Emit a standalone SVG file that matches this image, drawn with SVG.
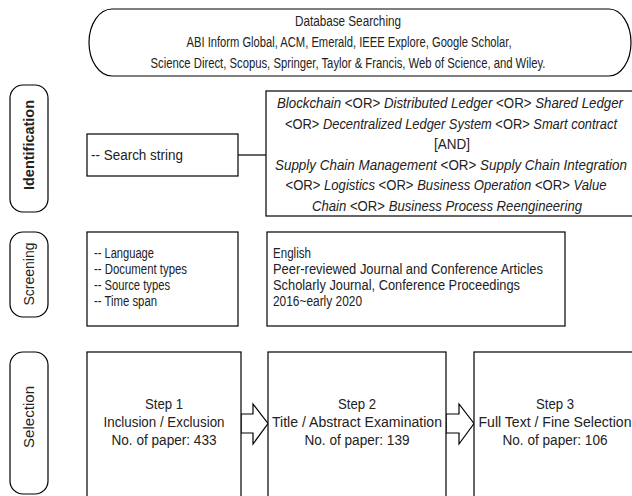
<svg xmlns="http://www.w3.org/2000/svg" width="632" height="496" viewBox="0 0 632 496">
<style>
.b{fill:#fff;stroke:#000;stroke-width:1.2}
.t{font-family:"Liberation Sans",Arial,sans-serif;font-size:14px;fill:#222}
.c{text-anchor:middle}
.i{font-style:italic}
</style>
<rect width="632" height="496" fill="#fff"/>
<g id="database">
<path class="b" d="M112,9 H609 A22,33.5 0 0 1 609,76 H112 A23,33.5 0 0 1 112,9 Z"/>
<text class="t c" x="348" y="26" textLength="106" lengthAdjust="spacingAndGlyphs">Database Searching</text>
<text class="t c" x="349" y="47" textLength="325" lengthAdjust="spacingAndGlyphs">ABI Inform Global, ACM, Emerald, IEEE Explore, Google Scholar,</text>
<text class="t c" x="348" y="68" textLength="395" lengthAdjust="spacingAndGlyphs">Science Direct, Scopus, Springer, Taylor &amp; Francis, Web of Science, and Wiley.</text>
</g>
<g id="identification">
<rect class="b" x="10" y="85" width="38" height="127" rx="13"/>
<text class="t c" transform="translate(34,145) rotate(-90)" font-weight="bold" textLength="90" lengthAdjust="spacingAndGlyphs">Identification</text>
</g>
<g id="screening">
<rect class="b" x="10" y="232" width="38" height="85" rx="13"/>
<text class="t c" transform="translate(34,274) rotate(-90)" textLength="63" lengthAdjust="spacingAndGlyphs">Screening</text>
</g>
<g id="selection">
<rect class="b" x="10" y="352" width="38" height="142" rx="13"/>
<text class="t c" transform="translate(34,417) rotate(-90)" textLength="62" lengthAdjust="spacingAndGlyphs">Selection</text>
</g>
<g id="connectors">
<line x1="238" y1="155" x2="266" y2="155" stroke="#000" stroke-width="1.2"/>
<polygon class="b" points="241,414 253,414 253,404 268,423.5 253,444 253,433 241,433"/>
<polygon class="b" points="446,414 459,414 459,404 474,423.5 459,444 459,433 446,433"/>
</g>
<g id="search-string">
<rect class="b" x="87" y="134" width="151" height="42"/>
<text class="t" x="91" y="160" textLength="92" lengthAdjust="spacingAndGlyphs">-- Search string</text>
</g>
<g id="search-terms">
<rect class="b" x="266" y="91" width="380" height="125"/>
<text class="t c" x="450" y="108" textLength="346" lengthAdjust="spacingAndGlyphs"><tspan class="i">Blockchain</tspan> &lt;OR&gt; <tspan class="i">Distributed Ledger</tspan> &lt;OR&gt; <tspan class="i">Shared Ledger</tspan></text>
<text class="t c" x="451" y="129" textLength="332" lengthAdjust="spacingAndGlyphs">&lt;OR&gt; <tspan class="i">Decentralized Ledger System</tspan> &lt;OR&gt; <tspan class="i">Smart contract</tspan></text>
<text class="t c" x="452" y="149" textLength="36" lengthAdjust="spacingAndGlyphs">[AND]</text>
<text class="t c" x="451" y="170" textLength="352" lengthAdjust="spacingAndGlyphs"><tspan class="i">Supply Chain Management</tspan> &lt;OR&gt; <tspan class="i">Supply Chain Integration</tspan></text>
<text class="t c" x="446" y="190" textLength="321" lengthAdjust="spacingAndGlyphs">&lt;OR&gt; <tspan class="i">Logistics</tspan> &lt;OR&gt; <tspan class="i">Business Operation</tspan> &lt;OR&gt; <tspan class="i">Value</tspan></text>
<text class="t c" x="447" y="211" textLength="270" lengthAdjust="spacingAndGlyphs"><tspan class="i">Chain</tspan>  &lt;OR&gt; <tspan class="i">Business Process Reengineering</tspan></text>
</g>
<g id="criteria">
<rect class="b" x="87" y="232" width="151" height="94"/>
<text class="t" x="94" y="258" textLength="60" lengthAdjust="spacingAndGlyphs">-- Language</text>
<text class="t" x="94" y="274" textLength="93" lengthAdjust="spacingAndGlyphs">-- Document types</text>
<text class="t" x="94" y="290" textLength="76" lengthAdjust="spacingAndGlyphs">-- Source types</text>
<text class="t" x="94" y="306" textLength="63" lengthAdjust="spacingAndGlyphs">-- Time span</text>
</g>
<g id="criteria-values">
<rect class="b" x="267" y="232" width="298" height="94"/>
<text class="t" x="273" y="258" textLength="38" lengthAdjust="spacingAndGlyphs">English</text>
<text class="t" x="273" y="274" textLength="270" lengthAdjust="spacingAndGlyphs">Peer-reviewed Journal and Conference Articles</text>
<text class="t" x="273" y="290" textLength="247" lengthAdjust="spacingAndGlyphs">Scholarly Journal, Conference Proceedings</text>
<text class="t" x="273" y="306" textLength="89" lengthAdjust="spacingAndGlyphs">2016~early 2020</text>
</g>
<g id="step1">
<rect class="b" x="87" y="352" width="154" height="150"/>
<text class="t c" x="164" y="409" textLength="38" lengthAdjust="spacingAndGlyphs">Step 1</text>
<text class="t c" x="164" y="427" textLength="121" lengthAdjust="spacingAndGlyphs">Inclusion / Exclusion</text>
<text class="t c" x="164" y="445" textLength="105" lengthAdjust="spacingAndGlyphs">No. of paper: 433</text>
</g>
<g id="step2">
<rect class="b" x="268" y="352" width="178" height="150"/>
<text class="t c" x="357" y="409" textLength="38" lengthAdjust="spacingAndGlyphs">Step 2</text>
<text class="t c" x="357" y="427" textLength="170" lengthAdjust="spacingAndGlyphs">Title / Abstract Examination</text>
<text class="t c" x="357" y="445" textLength="105" lengthAdjust="spacingAndGlyphs">No. of paper: 139</text>
</g>
<g id="step3">
<rect class="b" x="474" y="352" width="170" height="150"/>
<text class="t c" x="555" y="409" textLength="38" lengthAdjust="spacingAndGlyphs">Step 3</text>
<text class="t c" x="555" y="427" textLength="153" lengthAdjust="spacingAndGlyphs">Full Text / Fine Selection</text>
<text class="t c" x="555" y="445" textLength="105" lengthAdjust="spacingAndGlyphs">No. of paper: 106</text>
</g>
</svg>
